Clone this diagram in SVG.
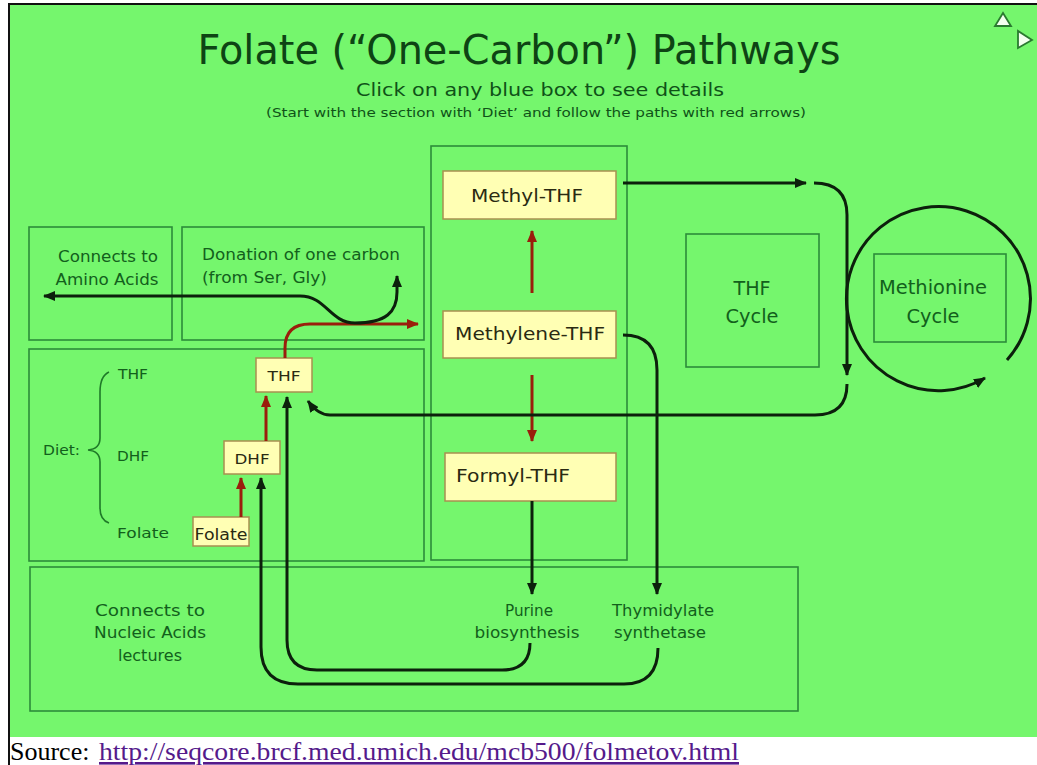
<svg xmlns="http://www.w3.org/2000/svg" width="1037" height="765" viewBox="0 0 1037 765">
<defs>
<style>
.frame{fill:none;stroke:#2c8c3a;stroke-width:1.6}
.ybox{fill:#ffffb4;stroke:#a89050;stroke-width:1.5}
.g{font-family:"DejaVu Sans","Liberation Sans",sans-serif;fill:#12601c}
.k{font-family:"DejaVu Sans","Liberation Sans",sans-serif;fill:#2a2a12}
.blk{fill:none;stroke:#0c200c;stroke-width:3}
.red{fill:none;stroke:#9a1e0c;stroke-width:3}
</style>
<marker id="ab" markerUnits="userSpaceOnUse" markerWidth="12" markerHeight="10" refX="11" refY="5" orient="auto"><path d="M0,0 L12,5 L0,10 z" fill="#0c200c"/></marker>
<marker id="ar" markerUnits="userSpaceOnUse" markerWidth="12" markerHeight="10" refX="11" refY="5" orient="auto"><path d="M0,0 L12,5 L0,10 z" fill="#9a1e0c"/></marker>
<marker id="abs" markerUnits="userSpaceOnUse" markerWidth="12" markerHeight="10" refX="1" refY="5" orient="auto"><path d="M12,0 L0,5 L12,10 z" fill="#0c200c"/></marker>
</defs>
<rect x="0" y="0" width="1037" height="765" fill="#ffffff"/>
<rect x="10" y="5" width="1027" height="732" fill="#75f66d"/>
<rect x="8" y="3" width="1029" height="2" fill="#111"/>
<rect x="8" y="3" width="2" height="762" fill="#111"/>

<g id="header">
<text class="g" x="519" y="64" font-size="40" text-anchor="middle" textLength="643" lengthAdjust="spacingAndGlyphs" style="fill:#0d4414">Folate (“One-Carbon”) Pathways</text>
<text class="g" x="540" y="96" font-size="18" text-anchor="middle" textLength="368" lengthAdjust="spacingAndGlyphs" style="fill:#0f5218">Click on any blue box to see details</text>
<text class="g" x="536" y="117" font-size="11.5" text-anchor="middle" textLength="540" lengthAdjust="spacingAndGlyphs" style="fill:#0f5218">(Start with the section with ‘Diet’ and follow the paths with red arrows)</text>
</g>

<g id="nav">
<path d="M1003,13 L995,26 L1011,26 z" fill="#f4fff0" stroke="#2a7a30" stroke-width="1.8"/>
<path d="M1018,31 L1018,48 L1032,40 z" fill="#f4fff0" stroke="#2a7a30" stroke-width="1.8"/>
</g>

<g id="amino-box">
<rect class="frame" x="29" y="227" width="143" height="113"/>
<text class="g" x="108" y="262" font-size="15" text-anchor="middle" textLength="100" lengthAdjust="spacingAndGlyphs">Connects to</text>
<text class="g" x="107" y="285" font-size="15" text-anchor="middle" textLength="103" lengthAdjust="spacingAndGlyphs">Amino Acids</text>
</g>

<g id="donation-box">
<rect class="frame" x="182" y="227" width="242" height="113"/>
<text class="g" x="202" y="260" font-size="15" textLength="198" lengthAdjust="spacingAndGlyphs">Donation of one carbon</text>
<text class="g" x="202" y="283" font-size="15" textLength="125" lengthAdjust="spacingAndGlyphs">(from Ser, Gly)</text>
</g>

<g id="diet-box">
<rect class="frame" x="29" y="349" width="395" height="212"/>
<text class="g" x="43" y="455" font-size="14" textLength="37" lengthAdjust="spacingAndGlyphs">Diet:</text>
<path d="M109,372 Q100,376 100,392 L100,438 Q100,449 88,450 Q100,451 100,462 L100,508 Q100,520 109,523" fill="none" stroke="#1f7a28" stroke-width="1.6"/>
<text class="g" x="118" y="379" font-size="14" textLength="30" lengthAdjust="spacingAndGlyphs">THF</text>
<text class="g" x="117" y="461" font-size="14" textLength="32" lengthAdjust="spacingAndGlyphs">DHF</text>
<text class="g" x="117" y="538" font-size="14" textLength="52" lengthAdjust="spacingAndGlyphs">Folate</text>
</g>

<g id="thf-box">
<rect class="ybox" x="256" y="358" width="56" height="34"/>
<text class="k" x="284" y="381" font-size="14" text-anchor="middle" textLength="33" lengthAdjust="spacingAndGlyphs">THF</text>
</g>
<g id="dhf-box">
<rect class="ybox" x="224" y="441" width="56" height="33"/>
<text class="k" x="252" y="464" font-size="14" text-anchor="middle" textLength="35" lengthAdjust="spacingAndGlyphs">DHF</text>
</g>
<g id="folate-box">
<rect class="ybox" x="193" y="517" width="56" height="29"/>
<text class="k" x="221" y="540" font-size="15" text-anchor="middle" textLength="53" lengthAdjust="spacingAndGlyphs">Folate</text>
</g>

<g id="central-box">
<rect class="frame" x="431" y="146" width="196" height="414"/>
</g>
<g id="methyl-thf">
<rect class="ybox" x="443" y="171" width="173" height="48"/>
<text class="k" x="527" y="202" font-size="18" text-anchor="middle" textLength="112" lengthAdjust="spacingAndGlyphs">Methyl-THF</text>
</g>
<g id="methylene-thf">
<rect class="ybox" x="443" y="311" width="173" height="47"/>
<text class="k" x="530" y="340" font-size="18" text-anchor="middle" textLength="150" lengthAdjust="spacingAndGlyphs">Methylene-THF</text>
</g>
<g id="formyl-thf">
<rect class="ybox" x="445" y="453" width="171" height="48"/>
<text class="k" x="456" y="482" font-size="18" textLength="114" lengthAdjust="spacingAndGlyphs">Formyl-THF</text>
</g>

<g id="thf-cycle">
<rect class="frame" x="686" y="234" width="133" height="133"/>
<text class="g" x="752" y="295" font-size="19" text-anchor="middle" textLength="37" lengthAdjust="spacingAndGlyphs">THF</text>
<text class="g" x="752" y="323" font-size="19" text-anchor="middle" textLength="53" lengthAdjust="spacingAndGlyphs">Cycle</text>
</g>

<g id="methionine-cycle">
<rect class="frame" x="874" y="254" width="132" height="88"/>
<text class="g" x="933" y="294" font-size="19" text-anchor="middle" textLength="108" lengthAdjust="spacingAndGlyphs">Methionine</text>
<text class="g" x="933" y="323" font-size="19" text-anchor="middle" textLength="53" lengthAdjust="spacingAndGlyphs">Cycle</text>
</g>

<g id="nucleic-box">
<rect class="frame" x="30" y="567" width="768" height="144"/>
<text class="g" x="150" y="616" font-size="15" text-anchor="middle" textLength="110" lengthAdjust="spacingAndGlyphs">Connects to</text>
<text class="g" x="150" y="638" font-size="15" text-anchor="middle" textLength="112" lengthAdjust="spacingAndGlyphs">Nucleic Acids</text>
<text class="g" x="150" y="661" font-size="15" text-anchor="middle" textLength="64" lengthAdjust="spacingAndGlyphs">lectures</text>
<text class="g" x="529" y="616" font-size="15" text-anchor="middle" textLength="48" lengthAdjust="spacingAndGlyphs">Purine</text>
<text class="g" x="527" y="638" font-size="15" text-anchor="middle" textLength="105" lengthAdjust="spacingAndGlyphs">biosynthesis</text>
<text class="g" x="663" y="616" font-size="15" text-anchor="middle" textLength="102" lengthAdjust="spacingAndGlyphs">Thymidylate</text>
<text class="g" x="660" y="638" font-size="15" text-anchor="middle" textLength="92" lengthAdjust="spacingAndGlyphs">synthetase</text>
</g>

<g id="connectors">
<path class="red" d="M532,293 L532,231" marker-end="url(#ar)"/>
<path class="red" d="M532,375 L532,441" marker-end="url(#ar)"/>
<path class="red" d="M241,517 L241,478" marker-end="url(#ar)"/>
<path class="red" d="M266,441 L266,396" marker-end="url(#ar)"/>
<path class="red" d="M285,358 L285,348 Q285,324 310,324 L418,324" marker-end="url(#ar)"/>
<path class="blk" d="M44,296 L300,296 C326,296 330,323 355,323 C386,323 397,312 397,292 L397,276" marker-start="url(#abs)" marker-end="url(#ab)"/>
<path class="blk" d="M623,183 L806,183" marker-end="url(#ab)"/>
<path class="blk" d="M814,183 Q847,183 847,215 L847,375" marker-end="url(#ab)"/>
<path class="blk" d="M847,384 Q847,415 815,415 L330,415 Q318,415 308,401" marker-end="url(#ab)"/>
<path class="blk" d="M1007,360 A92,92 0 1 0 985,378" marker-end="url(#ab)"/>
<path class="blk" d="M623,335 Q657,335 657,370 L657,594" marker-end="url(#ab)"/>
<path class="blk" d="M532,501 L532,594" marker-end="url(#ab)"/>
<path class="blk" d="M530,643 Q530,670 502,670 L317,670 Q287,670 287,640 L287,397" marker-end="url(#ab)"/>
<path class="blk" d="M658,648 Q658,684 624,684 L298,684 Q261,684 261,647 L261,478" marker-end="url(#ab)"/>
</g>

<g id="source">
<text x="10" y="760" font-family="Liberation Serif, serif" font-size="26" fill="#000">Source:</text>
<text x="99" y="760" font-family="Liberation Serif, serif" font-size="26" fill="#551a8b" text-decoration="underline" textLength="640" lengthAdjust="spacingAndGlyphs">http://seqcore.brcf.med.umich.edu/mcb500/folmetov.html</text>
</g>
</svg>
